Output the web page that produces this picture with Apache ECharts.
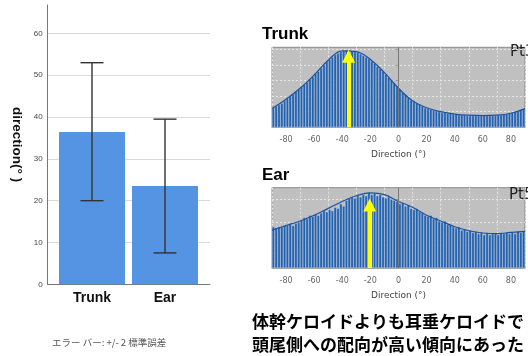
<!DOCTYPE html>
<html>
<head>
<meta charset="utf-8">
<script src="https://cdn.jsdelivr.net/npm/echarts@6/dist/echarts.min.js"></script>
<style>
html,body{margin:0;padding:0;background:#fff;}
#main{width:528px;height:356px;}
</style>
</head>
<body>
<div id="main"></div>
<script>
// 左：配向角の平均 ± 2SE
var groups = ['Trunk', 'Ear'];
var meanDir = [36.4, 23.5];
var errLow = [20.0, 7.5];
var errHigh = [53.0, 39.5];

// 右：方向分布ヒストグラム（2°ビン）
var binCenters = [-89,-87,-85,-83,-81,-79,-77,-75,-73,-71,-69,-67,-65,-63,-61,-59,-57,-55,-53,-51,
  -49,-47,-45,-43,-41,-39,-37,-35,-33,-31,-29,-27,-25,-23,-21,-19,-17,-15,-13,-11,
  -9,-7,-5,-3,-1,1,3,5,7,9,11,13,15,17,19,21,23,25,27,29,
  31,33,35,37,39,41,43,45,47,49,51,53,55,57,59,61,63,65,67,69,
  71,73,75,77,79,81,83,85,87,89];
var trunkBins = [25,27,29,31,34,37,40,43,46,49,52,55,58,62,65,69,72,76,80,84,
  87,90,93,95,97,98,99,99,98,97,96,94,92,90,88,85,82,78,75,72,
  68,64,61,57,53,49,45,42,38,35,33,31,29,27,25,24,23,22,21,20,
  19,19,18,18,17,17,16,16,16,15,15,15,15,15,15,15,15,15,15,15,
  16,16,17,17,18,19,20,21,23,24];
var earBins = [36,35,36,36,37,37,38,37,39,40,42,44,43,46,45,47,46,48,50,49,
  51,50,53,52,56,54,59,61,62,61,63,62,64,63,66,64,65,63,64,62,
  61,62,60,59,58,56,57,54,55,52,51,52,49,48,46,45,46,43,44,41,
  40,41,38,38,36,35,36,33,34,32,33,31,32,30,31,29,31,29,30,30,
  29,31,30,31,30,31,30,32,31,32];
var curveDeg = [-90,-80,-70,-60,-50,-40,-30,-20,-10,0,10,20,30,40,50,60,70,80,90];
var trunkCurve = [24,36,50,67,86,98,97,87,70,50,34,25,20,17,15.5,15,15.5,18,24];
var earCurve = [33,37,41,46,52,58,63,65.5,64,58,53,46,41,36,32.5,30.5,30,31,32];
var trunkArrow = [-35.5, 91];
var earArrow = [-20.5, 55];

var chart = echarts.init(document.getElementById('main'));

function histParts(n, top, bottom, yMax, bins, curve, arrow) {
    var xi = 2 + n, yi = 2 + n, gi = 2 + n;
    return {
        grid: {left: 272, right: -8, top: top, bottom: bottom, show: true,
            backgroundColor: '#c0c0c0', borderColor: '#8a8a8a', borderWidth: 1},
        xAxis: {
            type: 'value', gridIndex: gi, min: -90, max: 90, interval: 10,
            offset: 3,
            axisLine: {show: true, lineStyle: {color: '#a0a0a0'}},
            axisTick: {show: false},
            axisLabel: {
                fontSize: 8, color: '#666', fontFamily: 'DejaVu Sans', margin: 6,
                formatter: function (v) { return (v % 20 === 0 && Math.abs(v) < 90) ? v : ''; }
            },
            splitLine: {show: true, lineStyle: {color: ['#e6e6e6', 'rgba(0,0,0,0)'], type: [2, 2], width: 1}},
            name: 'Direction (°)', nameLocation: 'middle', nameGap: 20,
            nameTextStyle: {fontSize: 9, color: '#444', fontFamily: 'DejaVu Sans'}
        },
        yAxis: {
            type: 'value', gridIndex: gi, min: 0, max: yMax, interval: 20,
            axisLine: {show: true, lineStyle: {color: '#8a8a8a'}},
            axisTick: {show: true, length: 3, lineStyle: {color: '#999'}},
            axisLabel: {show: false},
            splitLine: {show: true, showMaxLine: false, lineStyle: {color: '#e6e6e6', type: [2, 2]}}
        },
        series: [{
            type: 'bar', xAxisIndex: xi, yAxisIndex: yi,
            data: bins.map(function (v, i) { return [binCenters[i], v]; }),
            barWidth: 2.9,
            itemStyle: {color: '#2361ad', borderColor: '#cfdcee', borderWidth: 0.4},
            markLine: {
                silent: true, animation: false, symbol: 'none',
                label: {show: false},
                data: [
                    {xAxis: 0, lineStyle: {color: '#7a7a7a', width: 1, type: 'solid'}},
                    [
                        {coord: [arrow[0], 0], symbol: 'none', lineStyle: {color: '#ffff00', width: 4, type: 'solid'}},
                        {coord: [arrow[0], arrow[1]], symbol: 'triangle', symbolSize: [13, 13]}
                    ]
                ]
            }
        }, {
            type: 'line', xAxisIndex: xi, yAxisIndex: yi,
            data: curve.map(function (v, i) { return [curveDeg[i], v]; }),
            smooth: 0.4, symbol: 'none',
            lineStyle: {color: '#1c4f9c', width: 1.2}
        }]
    };
}

var hTrunk = histParts(0, 47.3, 228.7, 102.5, trunkBins, trunkCurve, trunkArrow);
var hEar = histParts(1, 187.7, 88, 70, earBins, earCurve, earArrow);

var option = {
    animation: false,
    grid: [
        {left: 47.7, right: 318, top: 5, bottom: 71.7},
        {left: 55.5, right: 326.5, top: 5, bottom: 71.7},
        hTrunk.grid, hEar.grid
    ],
    xAxis: [
        {type: 'value', gridIndex: 0, min: 0, max: 1,
            axisLine: {show: true, lineStyle: {color: '#777'}},
            axisTick: {show: false}, axisLabel: {show: false}, splitLine: {show: false}},
        {type: 'category', gridIndex: 1, data: groups,
            axisLine: {show: false}, axisTick: {show: false},
            axisLabel: {fontSize: 14, fontWeight: 'bold', color: '#111',
                fontFamily: 'Liberation Sans', margin: 7}},
        hTrunk.xAxis, hEar.xAxis
    ],
    yAxis: [
        {type: 'value', gridIndex: 0, min: 0, max: 66.8, interval: 10,
            axisLine: {show: true, lineStyle: {color: '#777'}},
            axisTick: {show: false},
            axisLabel: {fontSize: 8, color: '#444', showMaxLabel: false, margin: 5,
                fontFamily: 'Liberation Sans'},
            splitLine: {show: true, showMaxLine: false, lineStyle: {color: '#d9d9d9', width: 1}},
            name: 'direction(° )', nameLocation: 'middle', nameRotate: -90, nameGap: 24,
            nameTextStyle: {fontSize: 13.5, fontWeight: 'bold', color: '#111', fontFamily: 'Liberation Sans'}},
        {type: 'value', gridIndex: 1, min: 0, max: 66.8, show: false},
        hTrunk.yAxis, hEar.yAxis
    ],
    series: [
        {type: 'bar', xAxisIndex: 1, yAxisIndex: 1, data: meanDir, barWidth: 66,
            itemStyle: {color: '#5494e2'}},
        {type: 'custom', xAxisIndex: 1, yAxisIndex: 1, z: 10,
            encode: {x: 0, y: [1, 2]},
            data: groups.map(function (g, i) { return [i, errLow[i], errHigh[i]]; }),
            renderItem: function (params, api) {
                var lo = api.coord([api.value(0), api.value(1)]);
                var hi = api.coord([api.value(0), api.value(2)]);
                var w = 11.5;
                var st = {stroke: '#333', lineWidth: 1.4};
                return {type: 'group', children: [
                    {type: 'line', shape: {x1: hi[0], y1: hi[1], x2: lo[0], y2: lo[1]}, style: st},
                    {type: 'line', shape: {x1: hi[0] - w, y1: hi[1], x2: hi[0] + w, y2: hi[1]}, style: st},
                    {type: 'line', shape: {x1: lo[0] - w, y1: lo[1], x2: lo[0] + w, y2: lo[1]}, style: st}
                ]};
            }}
    ].concat(hTrunk.series, hEar.series),
    graphic: [
        {type: 'text', left: 52, top: 338, style: {text: 'エラー バー: +/- 2 標準誤差', fontSize: 9.5,
            fill: '#555', fontFamily: 'Noto Sans CJK JP'}},
        {type: 'text', left: 262, top: 26, style: {text: 'Trunk', fontSize: 17, fontWeight: 'bold',
            fill: '#000', fontFamily: 'Liberation Sans'}},
        {type: 'text', left: 262, top: 167, style: {text: 'Ear', fontSize: 17, fontWeight: 'bold',
            fill: '#000', fontFamily: 'Liberation Sans'}},
        {type: 'text', left: 510, top: 45, style: {text: 'Pt3', fontSize: 15, fill: '#222',
            fontFamily: 'DejaVu Sans'}},
        {type: 'text', left: 509, top: 188, style: {text: 'Pt5', fontSize: 15, fill: '#222',
            fontFamily: 'DejaVu Sans'}},
        {type: 'text', left: 252, top: 313, style: {text: '体幹ケロイドよりも耳垂ケロイドで', fontSize: 17,
            fontWeight: 'bold', fill: '#000', fontFamily: 'Noto Sans CJK JP'}},
        {type: 'text', left: 252, top: 336, style: {text: '頭尾側への配向が高い傾向にあった', fontSize: 17,
            fontWeight: 'bold', fill: '#000', fontFamily: 'Noto Sans CJK JP'}}
    ]
};
chart.setOption(option);
</script>
</body>
</html>
